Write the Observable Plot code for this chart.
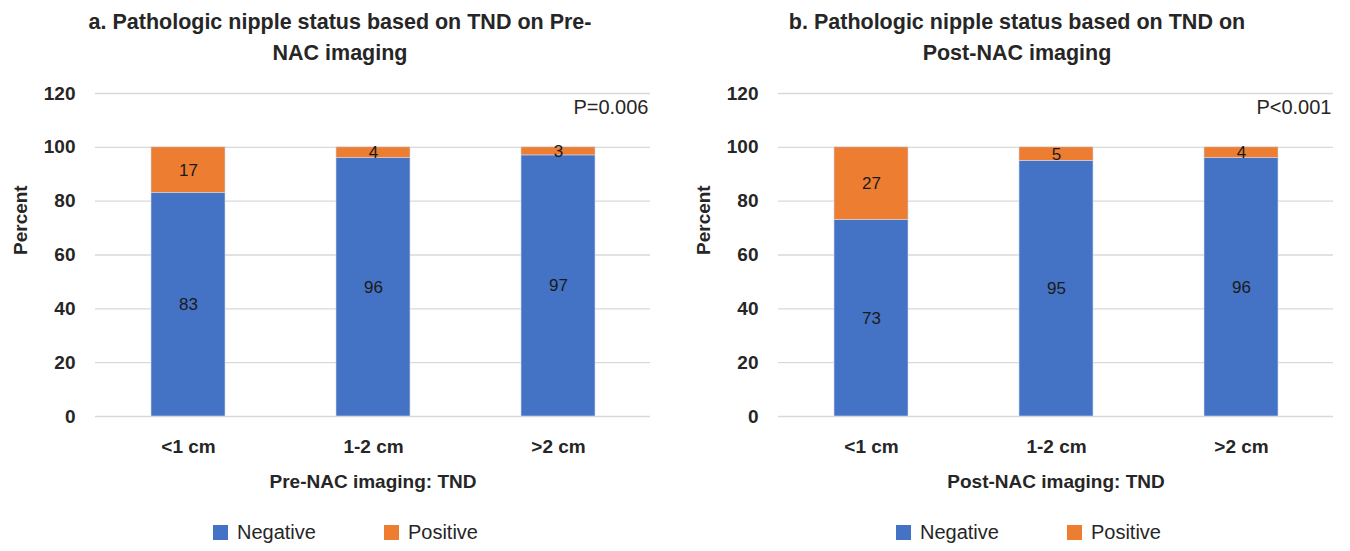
<!DOCTYPE html>
<html><head><meta charset="utf-8">
<script src="https://cdn.jsdelivr.net/npm/d3@7"></script>
<script src="https://cdn.jsdelivr.net/npm/@observablehq/plot@0.6"></script>
<style>
body{margin:0;background:#fff;font-family:"Liberation Sans",Arial,sans-serif;color:#262626;}
#wrap{position:relative;width:1350px;height:551px;overflow:hidden;}
.panel{position:absolute;top:0;width:667px;height:551px;}
.title{position:absolute;top:7px;left:0;width:680px;text-align:center;font-weight:bold;font-size:21.5px;line-height:31px;}
.legend{position:absolute;top:521px;display:flex;align-items:center;font-size:20px;}
.legend span.sw{display:inline-block;width:15px;height:15px;margin-right:9px;}
.legend span.item{display:flex;align-items:center;margin-right:68px;}
</style></head>
<body><div id="wrap"></div>
<script>
const categories = ["<1 cm", "1-2 cm", ">2 cm"];
const series = ["Negative", "Positive"];
const colors = ["#4472C4", "#ED7D31"];
const preNegative = [83, 96, 97];
const prePositive = [17, 4, 3];
const postNegative = [73, 95, 96];
const postPositive = [27, 5, 4];
const yTicks = [0, 20, 40, 60, 80, 100, 120];
const panels = [
  {left: 0, title: ["a. Pathologic nipple status based on TND on Pre-", "NAC imaging"], xlabel: "Pre-NAC imaging: TND", p: "P=0.006", neg: preNegative, pos: prePositive, titleLeft: 0},
  {left: 683, title: ["b. Pathologic nipple status based on TND on", "Post-NAC imaging"], xlabel: "Post-NAC imaging: TND", p: "P<0.001", neg: postNegative, pos: postPositive, titleLeft: -6}
];
const wrap = document.getElementById("wrap");
for (const pn of panels) {
  const data = [];
  categories.forEach((c, i) => {
    data.push({cat: c, status: series[0], value: pn.neg[i]});
    data.push({cat: c, status: series[1], value: pn.pos[i]});
  });
  const div = document.createElement("div");
  div.className = "panel";
  div.style.left = pn.left + "px";
  const t = document.createElement("div");
  t.className = "title";
  t.style.left = pn.titleLeft + "px";
  t.innerHTML = pn.title.map(s => s.replace(/</g, "&lt;")).join("<br>");
  div.appendChild(t);
  const chart = Plot.plot({
    width: 667, height: 425,
    marginLeft: 95, marginRight: 17, marginTop: 18, marginBottom: 84,
    style: {fontFamily: '"Liberation Sans", Arial, sans-serif', color: "#262626", background: "transparent"},
    x: {domain: categories, paddingInner: 0.6, paddingOuter: 0.3, label: null},
    y: {domain: [0, 120], ticks: yTicks, label: null},
    color: {domain: series, range: colors},
    marks: [
      Plot.gridY(yTicks, {stroke: "#d9d9d9", strokeOpacity: 1, strokeWidth: 1.3}),
      Plot.barY(data, {x: "cat", y: "value", fill: "status", stroke: "#cfdaf0", strokeWidth: 0.6, order: series}),
      Plot.text(data, Plot.stackY({x: "cat", y: "value", z: "status", text: "value", order: series, fontSize: 17, fill: "#1a1a1a"})),
      Plot.axisY(yTicks, {tickSize: 0, tickPadding: 20, fontSize: 19, fontWeight: "bold", label: null}),
      Plot.axisX({tickSize: 0, tickPadding: 23, fontSize: 19, fontWeight: "bold", label: null}),
      Plot.text([pn.xlabel], {frameAnchor: "bottom", dy: 65, fontSize: 19, fontWeight: "bold", lineAnchor: "middle"}),
      Plot.text(["Percent"], {frameAnchor: "left", dx: -75, rotate: -90, fontSize: 19, fontWeight: "bold", lineAnchor: "middle"}),
      Plot.text([pn.p], {frameAnchor: "top-right", dx: -2, dy: 14, fontSize: 20, textAnchor: "end", lineAnchor: "middle"})
    ]
  });
  chart.style.position = "absolute";
  chart.style.top = "75px";
  chart.style.left = "0px";
  div.appendChild(chart);
  const lg = document.createElement("div");
  lg.className = "legend";
  lg.style.left = "213px";
  lg.innerHTML = series.map((s, i) => `<span class="item"><span class="sw" style="background:${colors[i]}"></span>${s}</span>`).join("");
  div.appendChild(lg);
  wrap.appendChild(div);
}
</script></body></html>
